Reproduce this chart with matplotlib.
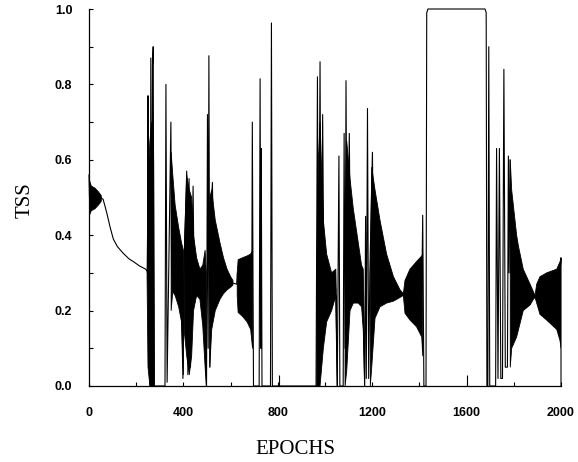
import numpy as np
import matplotlib
matplotlib.use("Agg")
import matplotlib.pyplot as plt
from matplotlib.ticker import MultipleLocator

# ---- outline trace (epoch, TSS) ----
trace_epoch = [0, 2, 5, 50, 60, 75, 90, 103, 120, 145, 170, 188, 215, 240, 246,
               248, 250, 253, 256, 259, 262, 266, 269, 272, 276,
               322, 326, 331, 347, 350, 380, 392, 398, 402, 414, 419, 424, 430, 441, 445, 490, 498,
               502, 505, 508, 512, 516, 523, 528, 600, 626, 629, 690, 692, 697,
               721, 725, 728, 730, 733, 769, 773, 777,
               962, 968, 972, 979, 984, 990, 995, 1045, 1052, 1059, 1063,
               1077, 1081, 1085, 1089, 1094, 1103, 1108, 1160, 1168, 1172, 1175, 1180, 1185,
               1190, 1201, 1206, 1320, 1332, 1410, 1414, 1419,
               1428, 1431, 1436, 1678, 1683, 1686, 1690, 1694, 1698,
               1723, 1727, 1733, 1739, 1745, 1752, 1758, 1764, 1773, 1777, 1780, 1784, 1788,
               1890, 1996, 2000, 2000]
trace_tss = [0.56, 0.50, 0.50, 0.50, 0.495, 0.46, 0.42, 0.39, 0.37, 0.352, 0.337, 0.33, 0.318, 0.31, 0.305,
             0.30, 0.77, 0.05, 0.60, 0.0, 0.87, 0.02, 0.85, 0.90, 0.0,
             0.0, 0.80, 0.01, 0.70, 0.30, 0.25, 0.20, 0.02, 0.30, 0.57, 0.03, 0.55, 0.05, 0.53, 0.30, 0.25, 0.0,
             0.72, 0.10, 0.876, 0.05, 0.45, 0.54, 0.30, 0.275, 0.27, 0.30, 0.30, 0.70, 0.0,
             0.0, 0.815, 0.10, 0.63, 0.0, 0.0, 0.963, 0.0,
             0.0, 0.82, 0.05, 0.86, 0.10, 0.72, 0.30, 0.26, 0.0, 0.61, 0.0,
             0.0, 0.67, 0.10, 0.81, 0.20, 0.67, 0.30, 0.25, 0.0, 0.45, 0.02, 0.736, 0.02,
             0.30, 0.62, 0.30, 0.245, 0.24, 0.25, 0.453, 0.0,
             0.0, 0.99, 1.0, 1.0, 0.99, 0.0, 0.0, 0.90, 0.0,
             0.0, 0.63, 0.02, 0.63, 0.02, 0.02, 0.84, 0.05, 0.05, 0.61, 0.30, 0.60, 0.30,
             0.235, 0.30, 0.34, 0.0]

# ---- dense oscillation bands: upper / lower envelopes (NaN separates bursts) ----
N = np.nan
band_epoch = [0, 10, 25, 40, 52, 52,
              246, 250, 258, 266, 274, 277, 277,
              348, 355, 365, 380, 392, 400, 400,
              403, 414, 425, 435, 443,
              456, 470, 482, 492, 497, 497,
              512, 520, 535, 555, 570, 585, 600, 610, 610,
              628, 632, 650, 670, 685, 693, 693,
              965, 972, 979, 993, 1007, 1028, 1046, 1052, 1052,
              1085, 1092, 1106, 1120, 1141, 1155, 1162, 1168, 1168,
              1192, 1198, 1212, 1233, 1261, 1290, 1318, 1332,
              1339, 1360, 1388, 1410, 1414, 1414,
              1785, 1791, 1812, 1820, 1840, 1869, 1883, 1890,
              1897, 1911, 1939, 1982, 1996, 2000]
band_hi = [0.55, 0.53, 0.525, 0.515, 0.505, N,
           0.31, 0.55, 0.65, 0.70, 0.60, 0.05, N,
           0.62, 0.56, 0.48, 0.42, 0.38, 0.36, N,
           0.35, 0.56, 0.52, 0.50, 0.40,
           0.34, 0.31, 0.32, 0.36, 0.30, N,
           0.50, 0.52, 0.44, 0.38, 0.34, 0.31, 0.29, 0.28, N,
           0.30, 0.335, 0.34, 0.345, 0.35, 0.36, N,
           0.30, 0.60, 0.70, 0.44, 0.35, 0.30, 0.31, 0.10, N,
           0.40, 0.65, 0.55, 0.47, 0.38, 0.32, 0.31, 0.10, N,
           0.30, 0.58, 0.52, 0.44, 0.35, 0.29, 0.255, 0.245,
           0.28, 0.31, 0.33, 0.345, 0.35, N,
           0.60, 0.52, 0.40, 0.37, 0.31, 0.27, 0.25, 0.24,
           0.27, 0.29, 0.30, 0.31, 0.33, 0.34]
band_lo = [0.45, 0.465, 0.47, 0.48, 0.49, N,
           0.29, 0.05, 0.0, 0.0, 0.0, 0.0, N,
           0.20, 0.25, 0.24, 0.21, 0.17, 0.03, N,
           0.15, 0.08, 0.03, 0.08, 0.20,
           0.24, 0.23, 0.16, 0.05, 0.0, N,
           0.05, 0.15, 0.20, 0.23, 0.245, 0.255, 0.262, 0.268, N,
           0.24, 0.195, 0.185, 0.17, 0.15, 0.10, N,
           0.0, 0.0, 0.0, 0.10, 0.17, 0.20, 0.24, 0.0, N,
           0.0, 0.04, 0.20, 0.22, 0.22, 0.21, 0.15, 0.0, N,
           0.0, 0.05, 0.18, 0.21, 0.22, 0.225, 0.235, 0.24,
           0.193, 0.175, 0.157, 0.13, 0.08, N,
           0.05, 0.10, 0.13, 0.15, 0.20, 0.215, 0.23, 0.235,
           0.22, 0.19, 0.175, 0.15, 0.12, 0.10]

# small blips on the baseline
blip_epoch = [806, 1602]
blip_tss = [0.03, 0.03]

x_ticks = [0, 400, 800, 1200, 1600, 2000]
y_ticks = [0.0, 0.2, 0.4, 0.6, 0.8, 1.0]

fig = plt.figure(figsize=(5.78, 4.62), dpi=100)
ax = fig.add_axes([89 / 578, 1 - 386 / 462, (561 - 89) / 578, (386 - 9) / 462])

ax.fill_between(band_epoch, band_lo, band_hi, color="black", linewidth=0.6)
ax.plot(trace_epoch, trace_tss, color="black", linewidth=0.8, clip_on=False)
ax.vlines(blip_epoch, 0, blip_tss, color="black", linewidth=0.8)

ax.set_xlim(0, 2000)
ax.set_ylim(0, 1.0)
ax.set_xticks(x_ticks)
ax.set_yticks(y_ticks)
ax.set_xticklabels([str(t) for t in x_ticks])
ax.set_yticklabels([f"{t:.1f}" for t in y_ticks])
ax.xaxis.set_minor_locator(MultipleLocator(200))
ax.yaxis.set_minor_locator(MultipleLocator(0.1))
ax.tick_params(axis="both", which="both", direction="in", length=3, width=0.8)
ax.tick_params(axis="x", pad=15, labelsize=9)
ax.tick_params(axis="y", pad=12, labelsize=9)
for lab in ax.get_xticklabels() + ax.get_yticklabels():
    lab.set_fontfamily("Liberation Sans")
    lab.set_fontweight("bold")

for s in ("top", "right"):
    ax.spines[s].set_visible(False)
for s in ("left", "bottom"):
    ax.spines[s].set_linewidth(0.9)

fig.text(295 / 578, 1 - 449 / 462, "EPOCHS", ha="center", va="center",
         fontsize=15, family="Liberation Serif")
fig.text(25 / 578, 1 - 200 / 462, "TSS", ha="center", va="center",
         fontsize=15, family="Liberation Serif", rotation=90)

fig.savefig("out.png", dpi=100)
